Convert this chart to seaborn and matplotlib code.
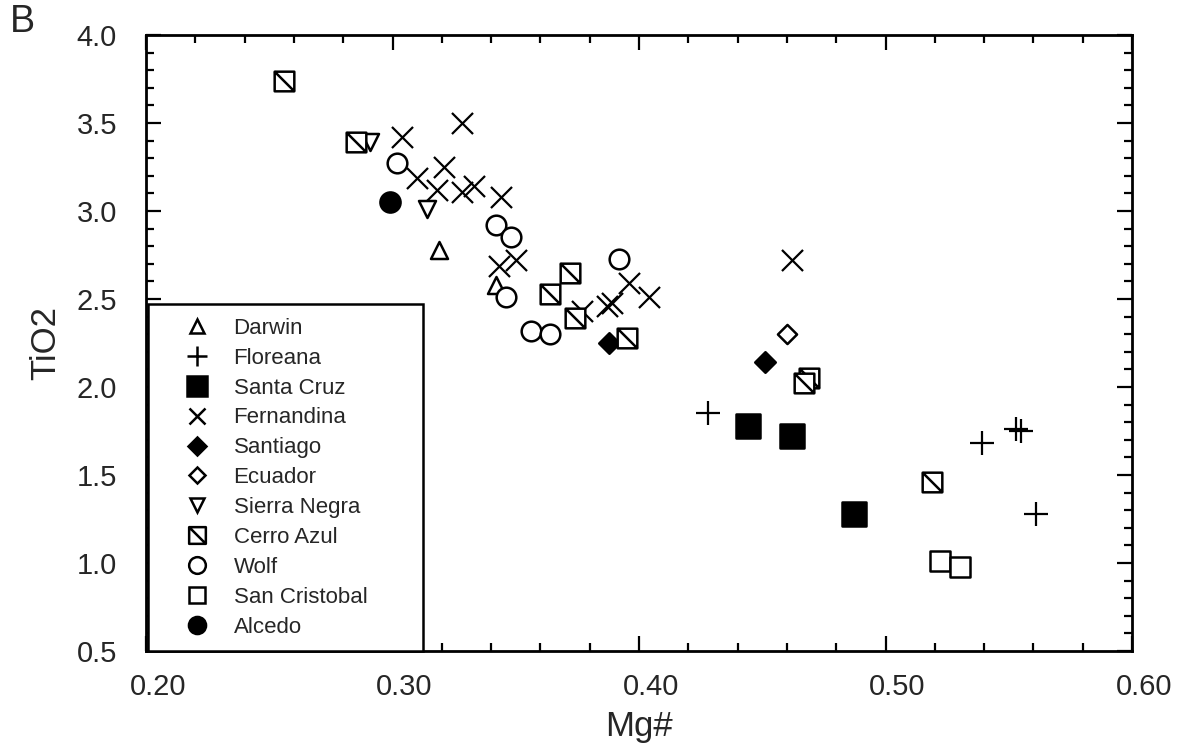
import numpy as np
import pandas as pd
import seaborn as sns
import matplotlib.pyplot as plt
from matplotlib.path import Path
from matplotlib.lines import Line2D
from matplotlib.ticker import MultipleLocator
from matplotlib.transforms import ScaledTranslation

sns.set_style('ticks')
plt.rcParams['font.family'] = ['Liberation Sans', 'DejaVu Sans']

# Mg# (x) and TiO2 (y) for each volcano
darwin_x = [0.319, 0.342]
darwin_y = [2.78, 2.58]

floreana_x = [0.428, 0.539, 0.553, 0.555, 0.561]
floreana_y = [1.85, 1.68, 1.76, 1.75, 1.28]

santacruz_x = [0.444, 0.462, 0.487]
santacruz_y = [1.78, 1.72, 1.28]

fernandina_x = [0.304, 0.328, 0.310, 0.321, 0.318, 0.328, 0.333, 0.344,
                0.343, 0.350, 0.396, 0.404, 0.389, 0.387, 0.377, 0.462]
fernandina_y = [3.42, 3.50, 3.19, 3.25, 3.12, 3.11, 3.14, 3.08,
                2.69, 2.72, 2.59, 2.51, 2.48, 2.46, 2.43, 2.72]

santiago_x = [0.388, 0.451]
santiago_y = [2.25, 2.14]

ecuador_x = [0.460]
ecuador_y = [2.30]

sierranegra_x = [0.291, 0.314]
sierranegra_y = [3.39, 3.01]

cerroazul_x = [0.256, 0.285, 0.372, 0.364, 0.374, 0.395, 0.469, 0.467, 0.519]
cerroazul_y = [3.74, 3.39, 2.65, 2.53, 2.39, 2.28, 2.05, 2.02, 1.46]

wolf_x = [0.302, 0.342, 0.348, 0.346, 0.392, 0.356, 0.364]
wolf_y = [3.27, 2.92, 2.85, 2.51, 2.73, 2.32, 2.30]

sancristobal_x = [0.522, 0.530]
sancristobal_y = [1.01, 0.98]

alcedo_x = [0.299]
alcedo_y = [3.05]

# square with a diagonal for Cerro Azul
hatched_square = Path(
    [(-1, -1), (1, -1), (1, 1), (-1, 1), (-1, -1), (-1, 1), (1, -1)],
    [Path.MOVETO, Path.LINETO, Path.LINETO, Path.LINETO, Path.CLOSEPOLY,
     Path.MOVETO, Path.LINETO])

# name, x, y, marker, face colour (None = line marker), size
groups = [
    ('Darwin', darwin_x, darwin_y, '^', 'white', 150),
    ('Floreana', floreana_x, floreana_y, '+', None, 300),
    ('Santa Cruz', santacruz_x, santacruz_y, 's', 'black', 290),
    ('Fernandina', fernandina_x, fernandina_y, 'x', None, 230),
    ('Santiago', santiago_x, santiago_y, 'D', 'black', 110),
    ('Ecuador', ecuador_x, ecuador_y, 'D', 'white', 95),
    ('Sierra Negra', sierranegra_x, sierranegra_y, 'v', 'white', 150),
    ('Cerro Azul', cerroazul_x, cerroazul_y, hatched_square, 'white', 200),
    ('Wolf', wolf_x, wolf_y, 'o', 'white', 200),
    ('San Cristobal', sancristobal_x, sancristobal_y, 's', 'white', 200),
    ('Alcedo', alcedo_x, alcedo_y, 'o', 'black', 210),
]

fig = plt.figure(figsize=(11.78, 7.48), dpi=100)
ax = fig.add_axes([0.124, 0.1297, 0.837, 0.8235])

handles = []
for name, xs, ys, mk, fc, size in groups:
    df = pd.DataFrame({'Mg#': xs, 'TiO2': ys})
    if fc is None:
        sns.scatterplot(data=df, x='Mg#', y='TiO2', ax=ax, marker=mk, s=size,
                        color='black', linewidth=1.6, legend=False)
        handles.append(Line2D([], [], marker=mk, linestyle='none', color='black',
                              markersize=np.sqrt(size) * 0.8, markeredgewidth=1.8,
                              label=name))
    else:
        sns.scatterplot(data=df, x='Mg#', y='TiO2', ax=ax, marker=mk, s=size,
                        facecolor=fc, edgecolor='black', linewidth=1.8, legend=False)
        handles.append(Line2D([], [], marker=mk, linestyle='none', markerfacecolor=fc,
                              markeredgecolor='black', markersize=np.sqrt(size) * 0.85,
                              markeredgewidth=1.8, label=name))

ax.set_xlim(0.20, 0.60)
ax.set_ylim(0.5, 4.0)
ax.xaxis.set_major_locator(MultipleLocator(0.1))
ax.xaxis.set_minor_locator(MultipleLocator(0.02))
ax.yaxis.set_major_locator(MultipleLocator(0.5))
ax.yaxis.set_minor_locator(MultipleLocator(0.1))
ax.xaxis.set_major_formatter(plt.FormatStrFormatter('%.2f'))
ax.yaxis.set_major_formatter(plt.FormatStrFormatter('%.1f'))

ax.tick_params(which='both', direction='in', top=True, right=True,
               width=1.6, color='black', labelsize=21)
ax.tick_params(which='major', length=11)
ax.tick_params(which='minor', length=6)
ax.tick_params(axis='x', pad=16)
ax.tick_params(axis='y', pad=21)
for sp in ax.spines.values():
    sp.set_linewidth(2)
    sp.set_color('black')

# x labels sit a little right of their ticks in the original
shift = ScaledTranslation(12 / 100, 0, fig.dpi_scale_trans)
for lab in ax.get_xticklabels():
    lab.set_transform(lab.get_transform() + shift)

ax.set_xlabel('Mg#', fontsize=25, labelpad=6)
ax.set_ylabel('TiO2', fontsize=25, labelpad=10)

leg = ax.legend(handles=handles, loc='lower left', bbox_to_anchor=(0.002, 0.0, 0.279, 0.5),
                mode='expand', borderaxespad=0, fontsize=16, labelspacing=0.4,
                borderpad=0.6, handlelength=3.2, handletextpad=0.05,
                frameon=True, fancybox=False, framealpha=1)
leg.get_frame().set_edgecolor('black')
leg.get_frame().set_linewidth(1.8)

fig.text(0.008, 1 - 32 / 748, 'B', fontsize=27)

fig.savefig('out.png', dpi=100)
